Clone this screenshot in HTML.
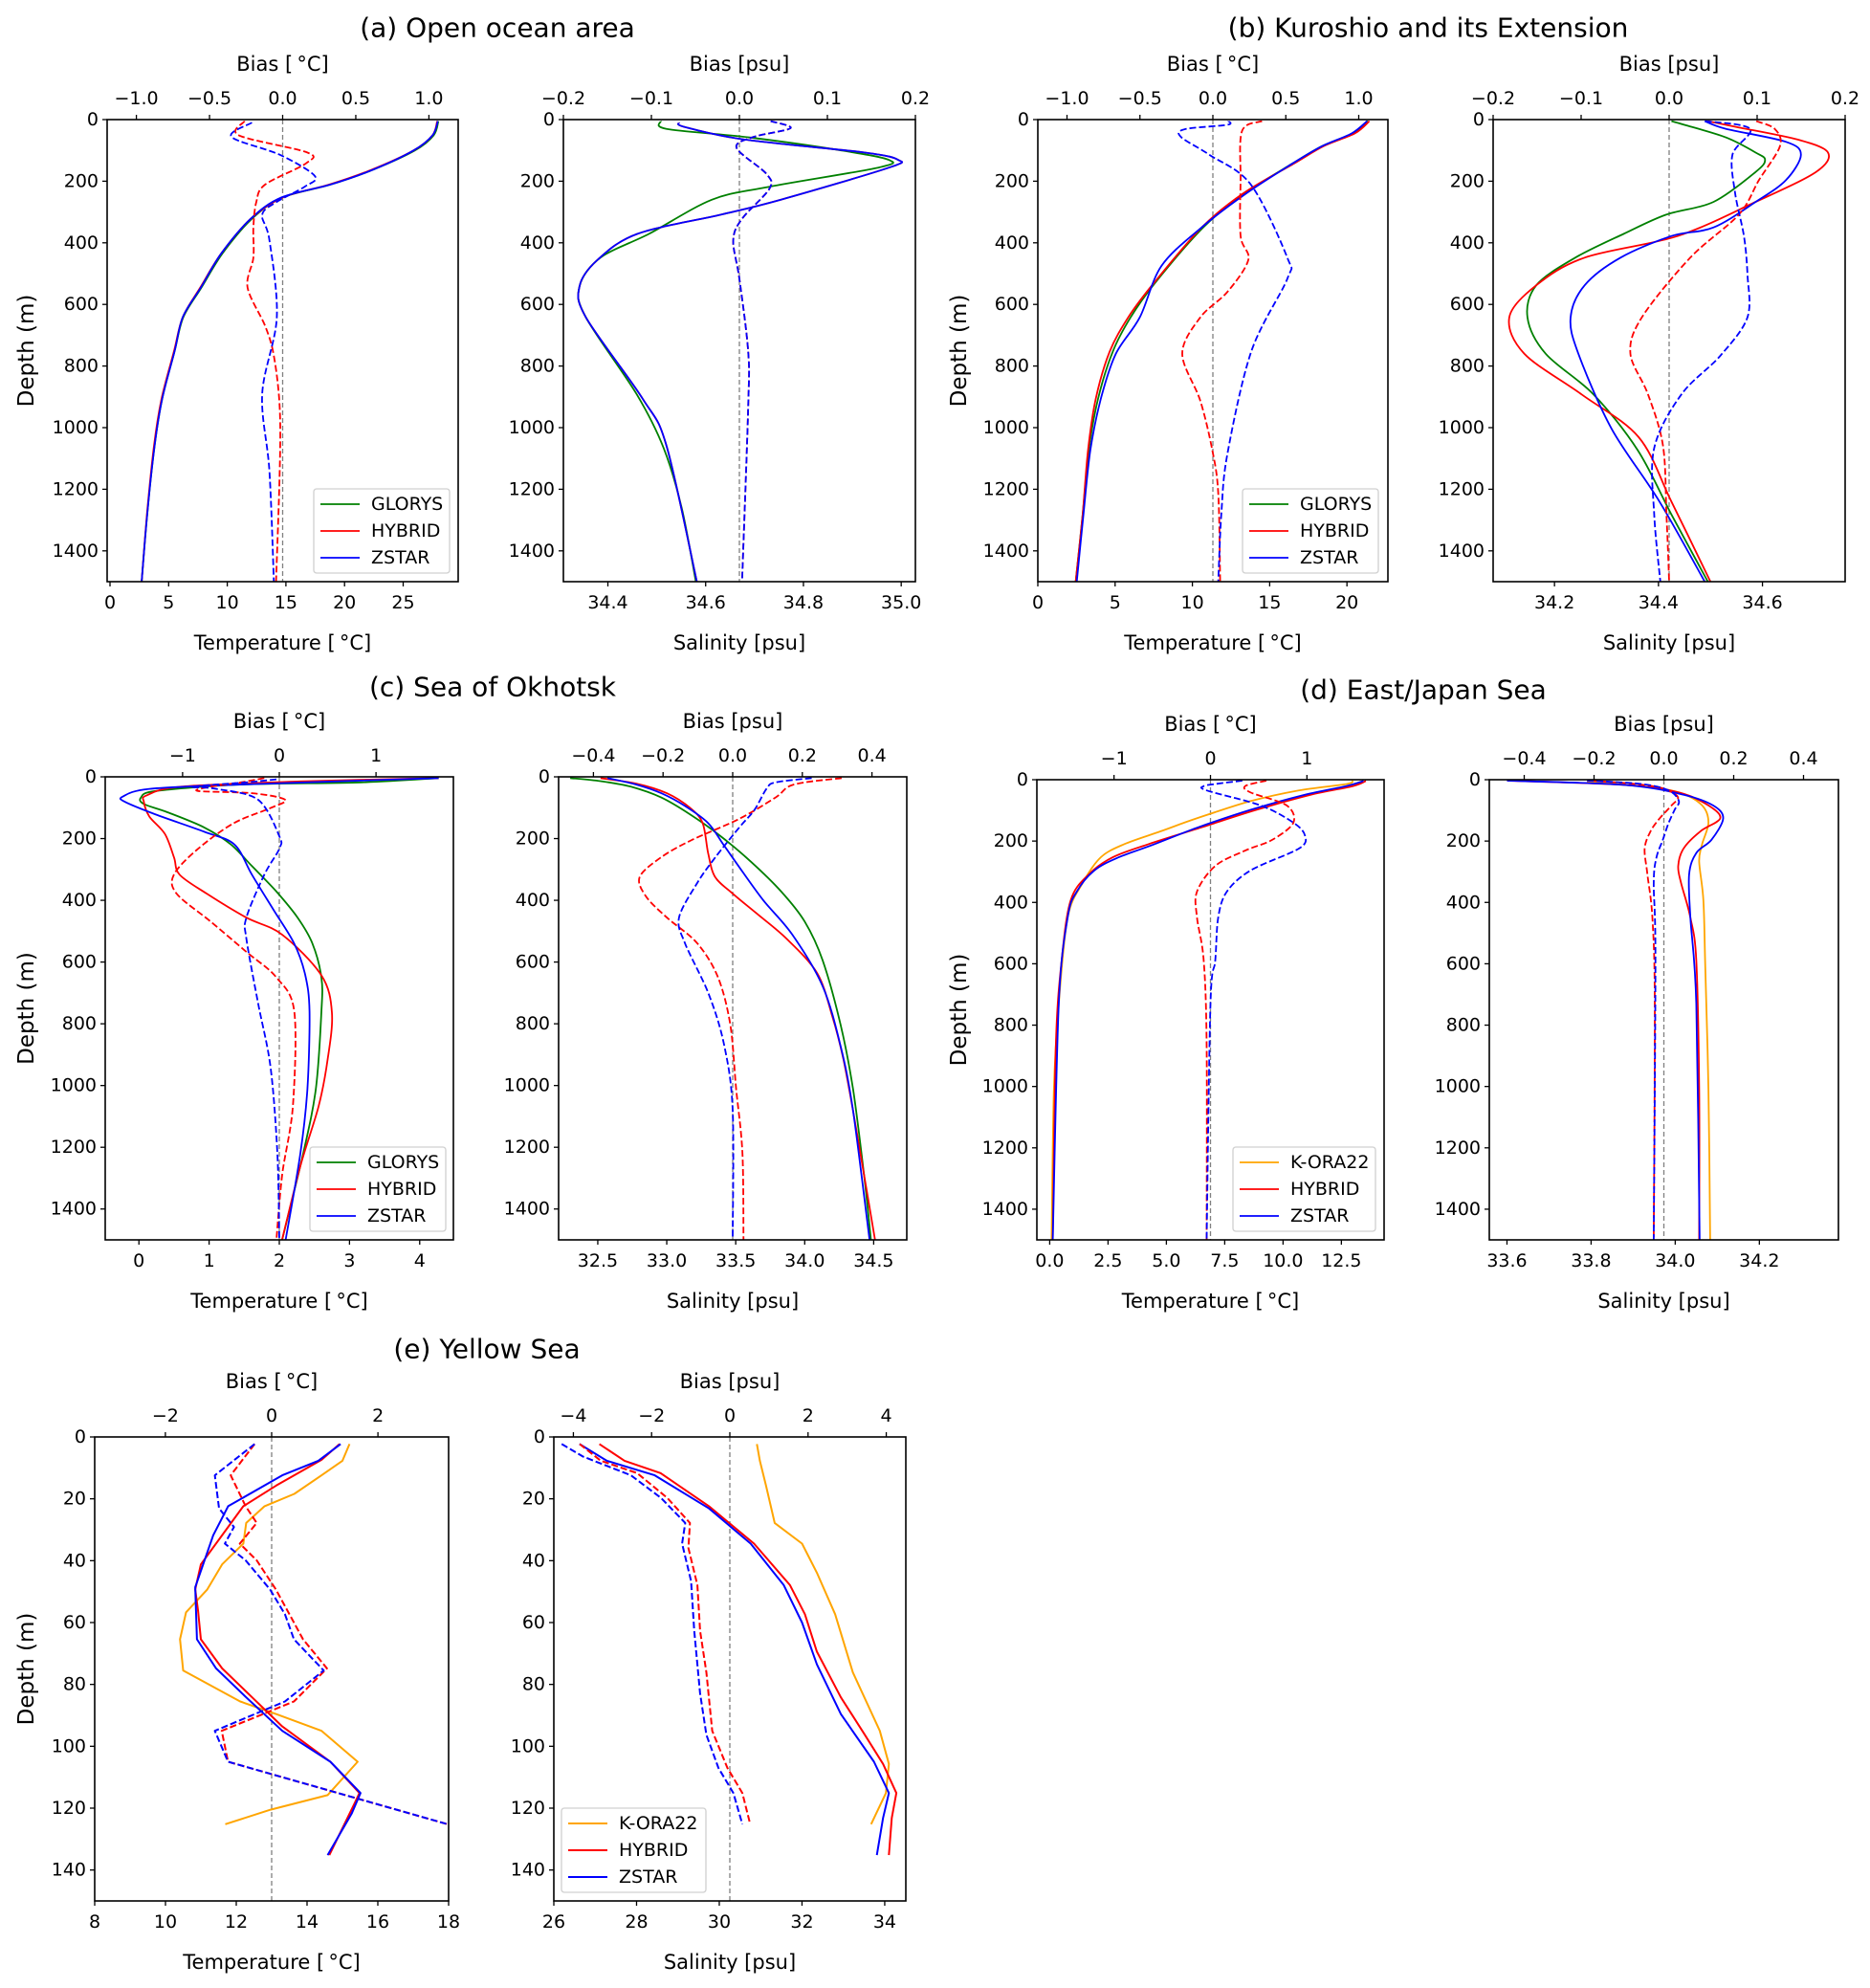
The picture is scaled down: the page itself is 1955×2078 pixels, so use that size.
<!DOCTYPE html>
<html><head><meta charset="utf-8">
<style>
html,body{margin:0;padding:0;background:#fff;}
svg{display:block;font-family:"DejaVu Sans","Liberation Sans",sans-serif;}
</style></head>
<body>
<svg id="fig" xmlns="http://www.w3.org/2000/svg" width="1955" height="2078" viewBox="0 0 1955 2078">
<rect x="0" y="0" width="1955" height="2078" fill="#fff"/>
</svg>
<script>
// ---- Panel (a) Open ocean: [depth, value] pairs ----
const aTglorys=[[5,28.0],[51,27.6],[100,26.0],[163,22.4],[211,18.8],[253,14.7],[322,12.1],[434,9.6],[545,7.8],[642,6.25],[753,5.5],[906,4.45],[1059,3.8],[1282,3.17],[1500,2.7]];
const aThybrid=[[5,27.9],[51,27.5],[100,25.9],[163,22.3],[211,18.7],[253,14.7],[322,12.0],[434,9.5],[545,7.7],[642,6.2],[753,5.45],[906,4.4],[1059,3.75],[1282,3.15],[1500,2.7]];
const aTzstar=[[5,27.95],[51,27.5],[100,25.9],[163,22.4],[211,18.8],[253,14.6],[322,12.0],[434,9.5],[545,7.75],[642,6.2],[753,5.5],[906,4.45],[1059,3.8],[1282,3.17],[1500,2.7]];
const aTbiasHybrid=[[5,-0.26],[51,-0.30],[107,0.17],[142,0.16],[211,-0.12],[267,-0.18],[350,-0.20],[448,-0.20],[545,-0.24],[670,-0.12],[767,-0.06],[934,-0.02],[1143,-0.02],[1500,-0.045]];
const aTbiasZstar=[[10,-0.21],[56,-0.35],[114,-0.02],[183,0.22],[218,0.15],[267,-0.04],[309,-0.14],[392,-0.09],[642,-0.04],[892,-0.14],[1143,-0.09],[1500,-0.06]];
const aSglorys=[[5,34.508],[30,34.52],[58,34.69],[100,34.877],[131,34.975],[156,34.953],[218,34.73],[260,34.613],[371,34.484],[448,34.385],[541,34.342],[642,34.355],[892,34.459],[1066,34.514],[1261,34.551],[1500,34.58]];
const aShybrid=[[10,34.545],[24,34.557],[65,34.68],[107,34.926],[131,34.994],[156,34.975],[260,34.754],[309,34.63],[371,34.46],[455,34.379],[541,34.342],[642,34.355],[906,34.471],[1059,34.52],[1500,34.582]];
const aSzstar=[[10,34.545],[24,34.557],[65,34.68],[107,34.926],[131,34.994],[156,34.975],[260,34.754],[309,34.63],[371,34.46],[455,34.379],[541,34.342],[642,34.355],[906,34.471],[1059,34.52],[1500,34.582]];
const aSbiasHybrid=[[5,0.0355],[28,0.058],[58,0.014],[93,-0.003],[177,0.031],[225,0.034],[322,0.003],[392,-0.007],[517,0.0],[753,0.010],[934,0.010],[1500,0.003]];
const aSbiasZstar=[[5,0.0355],[28,0.058],[58,0.014],[93,-0.003],[177,0.031],[225,0.034],[322,0.003],[392,-0.007],[517,0.0],[753,0.010],[934,0.010],[1500,0.003]];
// ---- Panel (b) Kuroshio ----
const bTglorys=[[5,21.36],[45,20.4],[86,18.4],[142,16.5],[239,13.4],[350,10.7],[531,7.57],[642,6.0],[753,4.85],[906,3.9],[1073,3.3],[1282,2.9],[1500,2.45]];
const bThybrid=[[5,21.45],[45,20.5],[86,18.5],[142,16.6],[239,13.3],[350,10.6],[531,7.5],[642,5.85],[753,4.65],[906,3.75],[1073,3.25],[1282,2.9],[1500,2.45]];
const bTzstar=[[5,21.3],[45,20.3],[86,18.4],[142,16.5],[239,13.5],[350,10.6],[475,8.0],[642,6.6],[760,5.05],[906,4.08],[1073,3.4],[1282,2.95],[1500,2.52]];
const bTbiasHybrid=[[5,0.337],[37,0.20],[197,0.19],[378,0.19],[455,0.243],[559,0.10],[642,-0.086],[760,-0.21],[913,-0.086],[1073,-0.004],[1212,0.037],[1500,0.05]];
const bTbiasZstar=[[5,0.107],[17,0.099],[31,-0.19],[56,-0.22],[114,-0.025],[211,0.26],[448,0.51],[517,0.51],[753,0.263],[1087,0.099],[1282,0.058],[1500,0.037]];
const bSglorys=[[5,34.425],[17,34.45],[58,34.53],[107,34.587],[131,34.605],[170,34.587],[267,34.506],[309,34.414],[371,34.333],[448,34.24],[538,34.165],[642,34.148],[760,34.183],[892,34.275],[1073,34.36],[1282,34.425],[1500,34.495]];
const bShybrid=[[5,34.495],[24,34.55],[65,34.668],[107,34.726],[170,34.703],[267,34.587],[378,34.437],[448,34.258],[538,34.165],[642,34.113],[760,34.142],[892,34.252],[1031,34.362],[1240,34.425],[1500,34.5]];
const bSzstar=[[5,34.489],[30,34.53],[72,34.645],[114,34.674],[197,34.645],[267,34.587],[350,34.506],[378,34.425],[448,34.327],[538,34.258],[642,34.231],[760,34.246],[1004,34.31],[1240,34.402],[1500,34.489]];
const bSbiasHybrid=[[5,0.099],[30,0.12],[86,0.126],[197,0.102],[309,0.079],[448,0.024],[642,-0.031],[760,-0.044],[892,-0.024],[1059,-0.007],[1282,-0.003],[1500,0.0]];
const bSbiasZstar=[[5,0.041],[30,0.092],[114,0.072],[239,0.075],[378,0.085],[503,0.089],[642,0.089],[767,0.058],[892,0.014],[1066,-0.017],[1282,-0.017],[1500,-0.010]];
// ---- Panel (c) Okhotsk ----
const cTglorys=[[4,4.27],[18,3.16],[25,1.44],[46,0.24],[67,0.03],[88,0.07],[115,0.41],[164,0.93],[219,1.31],[289,1.61],[372,1.96],[456,2.26],[539,2.47],[650,2.6],[761,2.6],[1011,2.52],[1220,2.34],[1500,2.04]];
const cThybrid=[[4,4.27],[15,2.3],[32,0.6],[60,0.11],[81,0.07],[129,0.15],[185,0.37],[261,0.5],[317,0.58],[379,0.97],[456,1.53],[511,2.04],[643,2.6],[764,2.75],[914,2.69],[1067,2.56],[1261,2.3],[1500,2.04]];
const cTzstar=[[4,4.27],[25,1.44],[39,0.15],[64,-0.23],[81,-0.2],[122,0.24],[178,0.93],[219,1.36],[317,1.61],[428,1.91],[539,2.21],[643,2.37],[761,2.43],[1011,2.4],[1220,2.3],[1500,2.09]];
const cTbiasHybrid=[[4,-0.155],[18,-0.40],[32,-0.71],[46,-0.84],[53,-0.28],[74,0.06],[101,-0.09],[150,-0.47],[233,-0.84],[317,-1.09],[379,-1.06],[469,-0.71],[567,-0.34],[650,-0.03],[761,0.155],[1067,0.14],[1289,0.03],[1500,-0.03]];
const cTbiasZstar=[[8,-0.03],[18,-0.34],[32,-0.90],[39,-0.65],[74,-0.22],[192,0.0],[233,0.0],[317,-0.155],[456,-0.34],[525,-0.34],[733,-0.22],[942,-0.09],[1220,-0.02],[1500,0.0]];
const cSglorys=[[4,32.30],[14,32.52],[32,32.74],[67,32.96],[122,33.17],[192,33.39],[275,33.61],[372,33.83],[469,34.0],[594,34.13],[803,34.26],[1011,34.35],[1289,34.43],[1500,34.48]];
const cShybrid=[[4,32.52],[22,32.78],[53,33.0],[101,33.17],[150,33.26],[247,33.3],[324,33.35],[379,33.48],[442,33.65],[525,33.87],[636,34.09],[775,34.2],[914,34.28],[1081,34.35],[1289,34.43],[1500,34.51]];
const cSzstar=[[4,32.57],[25,32.78],[53,32.96],[94,33.13],[150,33.3],[219,33.41],[289,33.52],[400,33.7],[511,33.91],[678,34.13],[872,34.26],[1081,34.35],[1500,34.47]];
const cSbiasHybrid=[[4,0.313],[25,0.175],[67,0.123],[136,0.019],[206,-0.12],[261,-0.206],[324,-0.267],[386,-0.25],[456,-0.189],[539,-0.102],[650,-0.042],[803,-0.007],[1011,0.01],[1220,0.028],[1500,0.031]];
const cSbiasZstar=[[4,0.227],[18,0.123],[39,0.097],[108,0.062],[164,0.019],[261,-0.05],[344,-0.102],[456,-0.154],[539,-0.137],[706,-0.068],[872,-0.024],[1081,0.0],[1500,0.0]];
// ---- Panel (d) East/Japan Sea ----
const dTkora=[[3,12.99],[14,12.73],[35,10.67],[70,8.6],[126,6.3],[168,4.76],[210,3.2],[253,2.19],[337,1.41],[449,0.77],[730,0.39],[1010,0.18],[1500,0.08]];
const dThybrid=[[4,13.55],[21,12.99],[49,11.19],[98,8.87],[154,6.56],[210,4.24],[253,2.7],[309,1.67],[393,0.9],[589,0.51],[870,0.26],[1500,0.13]];
const dTzstar=[[4,13.45],[21,12.7],[49,10.93],[98,8.62],[157,6.3],[210,4.5],[253,2.96],[295,1.93],[365,1.16],[449,0.77],[730,0.39],[1500,0.13]];
const dTbiasHybrid=[[3,0.58],[21,0.36],[42,0.42],[84,0.79],[140,0.86],[196,0.64],[231,0.36],[281,0.05],[365,-0.14],[449,-0.14],[589,-0.07],[870,-0.04],[1500,-0.04]];
const dTbiasZstar=[[3,0.33],[14,0.05],[21,-0.07],[35,-0.04],[84,0.52],[140,0.86],[182,0.98],[224,0.92],[295,0.42],[365,0.17],[449,0.08],[589,0.05],[730,0.0],[1500,-0.04]];
const dSkora=[[7,33.79],[21,33.92],[42,34.01],[84,34.064],[140,34.079],[210,34.064],[267,34.057],[393,34.067],[589,34.071],[1010,34.079],[1500,34.083]];
const dShybrid=[[3,33.6],[17,33.88],[42,34.01],[84,34.079],[126,34.107],[168,34.06],[224,34.02],[281,34.007],[337,34.014],[449,34.036],[589,34.05],[1010,34.057],[1500,34.057]];
const dSzstar=[[3,33.6],[17,33.88],[49,34.02],[84,34.09],[126,34.114],[196,34.086],[239,34.05],[309,34.033],[449,34.036],[730,34.05],[1500,34.058]];
const dSbiasHybrid=[[3,-0.21],[14,-0.081],[28,-0.003],[56,0.04],[84,0.022],[126,-0.012],[168,-0.038],[224,-0.055],[309,-0.047],[449,-0.033],[730,-0.026],[1500,-0.029]];
const dSbiasZstar=[[3,-0.22],[14,-0.064],[35,0.014],[70,0.043],[98,0.031],[140,0.014],[196,-0.003],[253,-0.021],[337,-0.029],[589,-0.024],[1500,-0.029]];
// ---- Panel (e) Yellow Sea ----
const eTkora=[[2.3,15.2],[7.7,15.0],[12.4,14.41],[18.4,13.64],[22.4,12.8],[27.8,12.28],[34.5,12.2],[41.2,11.6],[49.3,11.18],[56.7,10.58],[65.4,10.41],[75.5,10.5],[85.5,12.11],[89.6,13.13],[95,14.41],[105,15.43],[115.8,14.58],[120.5,12.97],[125.2,11.69]];
const eThybrid=[[2.3,14.92],[7.4,14.41],[15.7,13.13],[22.4,12.2],[29.1,11.77],[41.2,11.0],[49.3,10.84],[56,10.92],[65.4,11.0],[74.8,11.6],[84.2,12.45],[93.6,13.3],[105,14.66],[115.1,15.48],[118.5,15.34],[135.2,14.63]];
const eTzstar=[[2.3,14.95],[7.7,14.32],[12.4,13.3],[22.4,11.77],[31.8,11.35],[48.6,10.84],[65.4,10.89],[74.8,11.43],[84.2,12.28],[95,13.3],[105,14.66],[115.1,15.51],[121.8,15.26],[135.2,14.58]];
const eTbiasHybrid=[[2.3,-0.32],[12.4,-0.77],[22.4,-0.49],[27.8,-0.28],[34.5,-0.60],[39.9,-0.28],[49.3,0.08],[60,0.42],[65.4,0.59],[74.8,1.04],[85.5,0.42],[95,-0.94],[105,-0.82],[125.2,3.31]];
const eTbiasZstar=[[2.3,-0.32],[12.4,-1.07],[23.1,-0.99],[29.1,-0.71],[34.5,-0.88],[39.9,-0.49],[49.3,-0.03],[57.3,0.25],[65.4,0.42],[75.5,0.98],[85.5,0.25],[95,-1.07],[105,-0.82],[125.2,3.31]];
const eSkora=[[2.3,30.91],[7.7,30.98],[15.7,31.13],[27.8,31.34],[34.5,32.0],[43.9,32.36],[57.3,32.8],[76.1,33.23],[95,33.88],[105.7,34.1],[115.1,34.03],[125.2,33.67]];
const eShybrid=[[2.3,27.1],[7.7,27.71],[11.7,28.58],[22.4,29.75],[34.5,30.84],[47.9,31.71],[57.3,32.07],[69.4,32.36],[84.2,32.94],[96.3,33.52],[105.7,33.96],[115.1,34.28],[123.2,34.17],[135.2,34.1]];
const eSzstar=[[2.3,26.62],[7.7,27.28],[12.4,28.44],[23.1,29.75],[34.5,30.76],[47.9,31.56],[60,32.0],[73.5,32.36],[89.6,32.94],[105,33.74],[115.1,34.1],[123.2,33.96],[135.2,33.81]];
const eSbiasHybrid=[[2.3,-3.84],[7.7,-3.30],[11.7,-2.37],[19.7,-1.60],[27.8,-1.02],[35.9,-1.06],[47.9,-0.83],[62.7,-0.76],[76.1,-0.60],[95,-0.45],[107,-0.06],[115.1,0.32],[125.2,0.52]];
const eSbiasZstar=[[2.3,-4.3],[6.3,-3.76],[12.4,-2.53],[19.7,-1.76],[27.8,-1.14],[34.5,-1.22],[46.6,-0.99],[62.7,-0.91],[82.9,-0.76],[96.3,-0.60],[107,-0.29],[115.1,0.09],[125.2,0.32]];
// tick label arrays
const depthTicksDeep=[0,200,400,600,800,1000,1200,1400];
const depthTicksShallow=[0,20,40,60,80,100,120,140];
const aTticks=[0,5,10,15,20,25];
const bTticks=[0,5,10,15,20];
const cTticks=[0,1,2,3,4];
const dTticks=[0,2.5,5,7.5,10,12.5];
const eTticks=[8,10,12,14,16,18];
const aSticks=[34.4,34.6,34.8,35.0];
const bSticks=[34.2,34.4,34.6];
const cSticks=[32.5,33.0,33.5,34.0,34.5];
const dSticks=[33.6,33.8,34.0,34.2];
const eSticks=[26,28,30,32,34];
const biasT1=[-1.0,-0.5,0.0,0.5,1.0];
const biasT2=[-1,0,1];
const biasT3=[-2,0,2];
const biasS1=[-0.2,-0.1,0.0,0.1,0.2];
const biasS2=[-0.4,-0.2,0.0,0.2,0.4];
const biasS3=[-4,-2,0,2,4];

const NS="http://www.w3.org/2000/svg";
const svg=document.getElementById('fig');
const COL={green:'#008000',red:'#ff0000',blue:'#0000ff',orange:'#ffa500'};
function mk(tag,attrs,parent){const e=document.createElementNS(NS,tag);for(const k in attrs)e.setAttribute(k,attrs[k]);(parent||svg).appendChild(e);return e;}
function fmt(v,dec){let s=v.toFixed(dec);if(v<0)s='\u2212'+s.slice(1);return s;}
function txt(x,y,s,size,anchor,name,rot){
  const t=mk('text',{x:x,y:y,'font-size':size,'text-anchor':anchor||'middle','dominant-baseline':'central',fill:'#000'});
  if(rot)t.setAttribute('transform','rotate(-90 '+x+' '+y+')');
  t.textContent=s;
  
  
  return t;
}
function pathD(P,smooth){
  let d='M'+P[0][0].toFixed(1)+','+P[0][1].toFixed(1);
  for(let i=1;i<P.length;i++){
    if(!smooth){d+=' L'+P[i][0].toFixed(1)+','+P[i][1].toFixed(1);continue;}
    const p0=P[Math.max(0,i-2)],p1=P[i-1],p2=P[i],p3=P[Math.min(P.length-1,i+1)];
    const t=0.16;
    const c1=[p1[0]+(p2[0]-p0[0])*t,p1[1]+(p2[1]-p0[1])*t];
    const c2=[p2[0]-(p3[0]-p1[0])*t,p2[1]-(p3[1]-p1[1])*t];
    d+=' C'+c1[0].toFixed(1)+','+c1[1].toFixed(1)+' '+c2[0].toFixed(1)+','+c2[1].toFixed(1)+' '+p2[0].toFixed(1)+','+p2[1].toFixed(1);
  }
  return d;
}
let clipId=0;
function panel(p){
  const g=mk('g',{});
  
  
  const xS=v=>p.x0+(v-p.xmin)/(p.xmax-p.xmin)*(p.x1-p.x0);
  const bS=v=>p.x0+(v-p.bmin)/(p.bmax-p.bmin)*(p.x1-p.x0);
  const yS=d=>p.y0+d/p.dmax*(p.y1-p.y0);
  const cid='clip'+(clipId++);
  const cp=mk('clipPath',{id:cid},g);mk('rect',{x:p.x0,y:p.y0,width:p.x1-p.x0,height:p.y1-p.y0},cp);
  const z=mk('line',{x1:bS(0),x2:bS(0),y1:p.y0,y2:p.y1,stroke:'#808080','stroke-width':1.3,'stroke-dasharray':'5,3'},g);
  
  
  const plot=mk('g',{'clip-path':'url(#'+cid+')'},g);
  p.series.forEach(s=>{
    const sc=s.bias?bS:xS;
    const P=s.data.map(q=>[sc(q[1]),yS(q[0])]);
    const l=mk('path',{d:pathD(P,!p.linear),fill:'none',stroke:COL[s.c],'stroke-width':p.lw||1.8,'stroke-linejoin':'round'},plot);
    if(s.bias)l.setAttribute('stroke-dasharray','7,3');
    
    
  });
  const fr=mk('rect',{x:p.x0,y:p.y0,width:p.x1-p.x0,height:p.y1-p.y0,fill:'none',stroke:'#000','stroke-width':1.6},g);
  
  
  p.dticks.forEach(d=>{const y=yS(d);mk('line',{x1:p.x0-5,x2:p.x0,y1:y,y2:y,stroke:'#000','stroke-width':1.3},g);
    txt(p.x0-9,y,String(d),19,'end','y-tick-label');});
  p.xticks.forEach(v=>{const x=xS(v);mk('line',{x1:x,x2:x,y1:p.y1,y2:p.y1+5,stroke:'#000','stroke-width':1.3},g);
    txt(x,p.y1+22,fmt(v,p.xdec),19,'middle','x-tick-label');});
  p.bticks.forEach(v=>{const x=bS(v);mk('line',{x1:x,x2:x,y1:p.y0-5,y2:p.y0,stroke:'#000','stroke-width':1.3},g);
    txt(x,p.y0-22,fmt(v,p.bdec),19,'middle','bias-tick-label');});
  const mid=(p.x0+p.x1)/2;
  txt(mid,p.y1+64,p.xlabel,21,'middle','x-axis-title');
  txt(mid,p.y0-58,p.blabel,21,'middle','bias-axis-title');
  if(p.depthLabelX)txt(p.depthLabelX,(p.y0+p.y1)/2,'Depth (m)',23,'middle','y-axis-title',true);
  if(p.legend){
    const L=p.legend;
    const box=mk('rect',{x:L.x,y:L.y,width:L.w,height:L.h,rx:3,fill:'#fff','fill-opacity':0.8,stroke:'#d0d0d0','stroke-width':1.3},g);
    
    
    L.items.forEach((it,i)=>{const yy=L.y+16+i*28;
      mk('line',{x1:L.x+7,x2:L.x+48,y1:yy,y2:yy,stroke:COL[it[1]],'stroke-width':p.lw||1.8},g);
      txt(L.x+60,yy,it[0],19,'start','legend-entry');});
  }
}
function title(x,y,s){txt(x,y,s,28,'middle','panel-title');}
title(520,29,'(a) Open ocean area');
title(1493,29,'(b) Kuroshio and its Extension');
title(515,718,'(c) Sea of Okhotsk');
title(1488,721,'(d) East/Japan Sea');
title(509,1410,'(e) Yellow Sea');
const LG=[['GLORYS','green'],['HYBRID','red'],['ZSTAR','blue']];
const LK=[['K-ORA22','orange'],['HYBRID','red'],['ZSTAR','blue']];
const TL='Temperature [\u2009\u00b0C]', SL='Salinity [psu]', BT='Bias [\u2009\u00b0C]', BSL='Bias [psu]';
panel({name:'panel-a-temperature',x0:112,x1:479,y0:125,y1:608,xmin:-0.245,xmax:29.69,bmin:-1.2,bmax:1.2,dmax:1500,dticks:depthTicksDeep,xticks:aTticks,xdec:0,bticks:biasT1,bdec:1,xlabel:TL,blabel:BT,depthLabelX:28,
  legend:{x:328,y:511,w:142,h:88,items:LG},
  series:[{data:aTglorys,c:'green',name:'glorys-temp'},{data:aThybrid,c:'red',name:'hybrid-temp'},{data:aTzstar,c:'blue',name:'zstar-temp'},{data:aTbiasHybrid,c:'red',bias:1,name:'hybrid-temp-bias'},{data:aTbiasZstar,c:'blue',bias:1,name:'zstar-temp-bias'}]});
panel({name:'panel-a-salinity',x0:589,x1:957,y0:125,y1:608,xmin:34.309,xmax:35.029,bmin:-0.2,bmax:0.2,dmax:1500,dticks:depthTicksDeep,xticks:aSticks,xdec:1,bticks:biasS1,bdec:1,xlabel:SL,blabel:BSL,
  series:[{data:aSglorys,c:'green',name:'glorys-sal'},{data:aShybrid,c:'red',name:'hybrid-sal'},{data:aSzstar,c:'blue',name:'zstar-sal'},{data:aSbiasHybrid,c:'red',bias:1,name:'hybrid-sal-bias'},{data:aSbiasZstar,c:'blue',bias:1,name:'zstar-sal-bias'}]});
panel({name:'panel-b-temperature',x0:1085,x1:1451,y0:125,y1:608,xmin:0,xmax:22.65,bmin:-1.2,bmax:1.2,dmax:1500,dticks:depthTicksDeep,xticks:bTticks,xdec:0,bticks:biasT1,bdec:1,xlabel:TL,blabel:BT,depthLabelX:1003,
  legend:{x:1299,y:511,w:142,h:88,items:LG},
  series:[{data:bTglorys,c:'green',name:'glorys-temp'},{data:bThybrid,c:'red',name:'hybrid-temp'},{data:bTzstar,c:'blue',name:'zstar-temp'},{data:bTbiasHybrid,c:'red',bias:1,name:'hybrid-temp-bias'},{data:bTbiasZstar,c:'blue',bias:1,name:'zstar-temp-bias'}]});
panel({name:'panel-b-salinity',x0:1561,x1:1929,y0:125,y1:608,xmin:34.082,xmax:34.759,bmin:-0.2,bmax:0.2,dmax:1500,dticks:depthTicksDeep,xticks:bSticks,xdec:1,bticks:biasS1,bdec:1,xlabel:SL,blabel:BSL,
  series:[{data:bSglorys,c:'green',name:'glorys-sal'},{data:bShybrid,c:'red',name:'hybrid-sal'},{data:bSzstar,c:'blue',name:'zstar-sal'},{data:bSbiasHybrid,c:'red',bias:1,name:'hybrid-sal-bias'},{data:bSbiasZstar,c:'blue',bias:1,name:'zstar-sal-bias'}]});
panel({name:'panel-c-temperature',x0:110,x1:474,y0:812,y1:1296,xmin:-0.48,xmax:4.48,bmin:-1.8,bmax:1.8,dmax:1500,dticks:depthTicksDeep,xticks:cTticks,xdec:0,bticks:biasT2,bdec:0,xlabel:TL,blabel:BT,depthLabelX:28,
  legend:{x:324,y:1199,w:142,h:88,items:LG},
  series:[{data:cTglorys,c:'green',name:'glorys-temp'},{data:cThybrid,c:'red',name:'hybrid-temp'},{data:cTzstar,c:'blue',name:'zstar-temp'},{data:cTbiasHybrid,c:'red',bias:1,name:'hybrid-temp-bias'},{data:cTbiasZstar,c:'blue',bias:1,name:'zstar-temp-bias'}]});
panel({name:'panel-c-salinity',x0:584,x1:948,y0:812,y1:1296,xmin:32.216,xmax:34.74,bmin:-0.5,bmax:0.5,dmax:1500,dticks:depthTicksDeep,xticks:cSticks,xdec:1,bticks:biasS2,bdec:1,xlabel:SL,blabel:BSL,
  series:[{data:cSglorys,c:'green',name:'glorys-sal'},{data:cShybrid,c:'red',name:'hybrid-sal'},{data:cSzstar,c:'blue',name:'zstar-sal'},{data:cSbiasHybrid,c:'red',bias:1,name:'hybrid-sal-bias'},{data:cSbiasZstar,c:'blue',bias:1,name:'zstar-sal-bias'}]});
panel({name:'panel-d-temperature',x0:1084,x1:1447,y0:815,y1:1296,xmin:-0.55,xmax:14.33,bmin:-1.8,bmax:1.8,dmax:1500,dticks:depthTicksDeep,xticks:dTticks,xdec:1,bticks:biasT2,bdec:0,xlabel:TL,blabel:BT,depthLabelX:1003,
  legend:{x:1289,y:1199,w:149,h:88,items:LK},
  series:[{data:dTkora,c:'orange',name:'kora22-temp'},{data:dThybrid,c:'red',name:'hybrid-temp'},{data:dTzstar,c:'blue',name:'zstar-temp'},{data:dTbiasHybrid,c:'red',bias:1,name:'hybrid-temp-bias'},{data:dTbiasZstar,c:'blue',bias:1,name:'zstar-temp-bias'}]});
panel({name:'panel-d-salinity',x0:1557,x1:1922,y0:815,y1:1296,xmin:33.558,xmax:34.388,bmin:-0.5,bmax:0.5,dmax:1500,dticks:depthTicksDeep,xticks:dSticks,xdec:1,bticks:biasS2,bdec:1,xlabel:SL,blabel:BSL,
  series:[{data:dSkora,c:'orange',name:'kora22-sal'},{data:dShybrid,c:'red',name:'hybrid-sal'},{data:dSzstar,c:'blue',name:'zstar-sal'},{data:dSbiasHybrid,c:'red',bias:1,name:'hybrid-sal-bias'},{data:dSbiasZstar,c:'blue',bias:1,name:'zstar-sal-bias'}]});
panel({name:'panel-e-temperature',x0:99,x1:469,y0:1502,y1:1987,xmin:8,xmax:18,bmin:-3.33,bmax:3.33,dmax:150,dticks:depthTicksShallow,xticks:eTticks,xdec:0,bticks:biasT3,bdec:0,xlabel:TL,blabel:BT,depthLabelX:28,lw:2,linear:true,
  series:[{data:eTkora,c:'orange',name:'kora22-temp'},{data:eThybrid,c:'red',name:'hybrid-temp'},{data:eTzstar,c:'blue',name:'zstar-temp'},{data:eTbiasHybrid,c:'red',bias:1,name:'hybrid-temp-bias'},{data:eTbiasZstar,c:'blue',bias:1,name:'zstar-temp-bias'}]});
panel({name:'panel-e-salinity',x0:579,x1:947,y0:1502,y1:1987,xmin:26,xmax:34.51,bmin:-4.5,bmax:4.5,dmax:150,dticks:depthTicksShallow,xticks:eSticks,xdec:0,bticks:biasS3,bdec:0,xlabel:SL,blabel:BSL,lw:2,linear:true,
  legend:{x:587,y:1890,w:151,h:88,items:LK},
  series:[{data:eSkora,c:'orange',name:'kora22-sal'},{data:eShybrid,c:'red',name:'hybrid-sal'},{data:eSzstar,c:'blue',name:'zstar-sal'},{data:eSbiasHybrid,c:'red',bias:1,name:'hybrid-sal-bias'},{data:eSbiasZstar,c:'blue',bias:1,name:'zstar-sal-bias'}]});
</script>
</body></html>
